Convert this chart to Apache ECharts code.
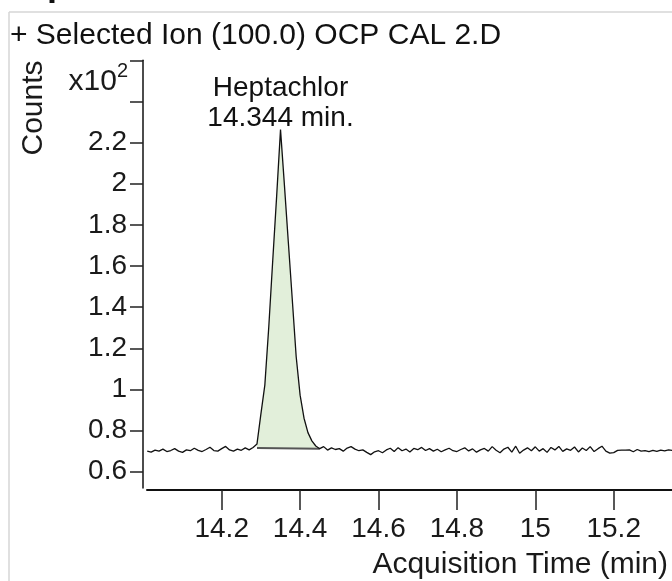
<!DOCTYPE html>
<html>
<head>
<meta charset="utf-8">
<script src="https://cdn.jsdelivr.net/npm/echarts@6/dist/echarts.min.js"></script>
<style>
html,body{margin:0;padding:0;background:#fff;}
#chart{width:672px;height:581px;}
</style>
</head>
<body>
<div id="chart"></div>
<script>
// ---- data ----
const titleText = '+ Selected Ion (100.0) OCP CAL 2.D';
const compoundName = 'Heptachlor';
const retentionLabel = '14.344 min.';
const sampleStart = 14.01;   // min
const sampleStep = 0.01;     // min
const counts = [
  0.700,0.695,0.705,0.700,0.710,0.698,0.703,0.712,0.700,0.694,
  0.706,0.702,0.714,0.704,0.698,0.708,0.719,0.703,0.700,0.712,
  0.723,0.706,0.700,0.710,0.704,0.716,0.706,0.718,0.735,0.881,
  1.021,1.302,1.622,1.935,2.263,1.992,1.714,1.437,1.159,0.972,
  0.860,0.790,0.750,0.725,0.712,0.722,0.705,0.716,0.708,0.712,
  0.700,0.715,0.722,0.710,0.702,0.706,0.694,0.683,0.697,0.702,
  0.692,0.706,0.714,0.698,0.717,0.702,0.710,0.696,0.713,0.707,
  0.718,0.703,0.712,0.700,0.709,0.697,0.706,0.714,0.702,0.698,
  0.708,0.716,0.701,0.711,0.695,0.706,0.713,0.700,0.722,0.704,
  0.692,0.710,0.719,0.695,0.724,0.690,0.705,0.716,0.702,0.721,
  0.700,0.712,0.694,0.718,0.706,0.723,0.699,0.711,0.704,0.720,
  0.696,0.715,0.703,0.722,0.698,0.712,0.724,0.700,0.690,0.693,
  0.704,0.705,0.705,0.706,0.697,0.708,0.700,0.703,0.698,0.704,
  0.699,0.705,0.701,0.706,0.703
];
const peakStartTime = 14.29;
const peakEndTime = 14.45;
const peakBaseStart = 0.715;
const peakBaseEnd = 0.712;
const peakApexTime = 14.35;
const xTicks = [14.2, 14.4, 14.6, 14.8, 15, 15.2];
const yTicks = [0.6, 0.8, 1, 1.2, 1.4, 1.6, 1.8, 2, 2.2, 2.4, 2.6];
const yTickLabels = [0.6, 0.8, 1, 1.2, 1.4, 1.6, 1.8, 2, 2.2];
const xRange = [14.0094, 15.3487];
const yRange = [0.5208, 2.6];

// ---- build ----
const trace = counts.map((v, i) => [+(sampleStart + i * sampleStep).toFixed(4), v]);
const peakData = trace.filter(p => p[0] >= peakStartTime - 1e-6 && p[0] <= peakEndTime + 1e-6);
const apexPoint = trace.find(p => Math.abs(p[0] - peakApexTime) < 1e-6);

const FONT = 'Liberation Sans, Arial, sans-serif';
const chart = echarts.init(document.getElementById('chart'), null, {renderer: 'canvas'});
chart.setOption({
  animation: false,
  backgroundColor: '#ffffff',
  grid: {left: 147, right: 0, top: 60.3, bottom: 93, containLabel: false},
  xAxis: {
    type: 'value',
    min: xRange[0], max: xRange[1],
    offset: 2,
    axisLine: {show: true, onZero: false, lineStyle: {color: '#111', width: 2}},
    axisTick: {show: true, length: 20, customValues: xTicks, lineStyle: {color: '#222', width: 1.5}},
    axisLabel: {show: true, customValues: xTicks, margin: 25, fontFamily: FONT, fontSize: 28, color: '#1a1a1a',
      formatter: v => String(+v.toFixed(2))},
    splitLine: {show: false}
  },
  yAxis: {
    type: 'value',
    min: yRange[0], max: yRange[1],
    offset: 4,
    axisLine: {show: true, onZero: false, lineStyle: {color: '#111', width: 1.5}},
    axisTick: {show: true, length: 13, customValues: yTicks, lineStyle: {color: '#222', width: 1.5}},
    axisLabel: {show: true, customValues: yTickLabels, margin: 16, fontFamily: FONT, fontSize: 28, color: '#1a1a1a',
      padding: [13, 0, 0, 0],
      formatter: v => String(+v.toFixed(2))},
    splitLine: {show: false}
  },
  series: [
    {
      name: 'peakArea',
      type: 'line',
      data: peakData,
      symbol: 'none',
      lineStyle: {width: 0, opacity: 0},
      areaStyle: {color: '#e2efda', opacity: 1, origin: peakBaseStart},
      z: 1,
      silent: true
    },
    {
      name: 'baseline',
      type: 'line',
      data: [[peakStartTime, peakBaseStart], [peakEndTime, peakBaseEnd]],
      symbol: 'none',
      lineStyle: {color: '#555', width: 2},
      z: 2,
      silent: true
    },
    {
      name: 'signal',
      type: 'line',
      data: trace,
      symbol: 'none',
      lineStyle: {color: '#111', width: 1.3},
      z: 3,
      silent: true
    },
    {
      name: 'apexLabel',
      type: 'scatter',
      data: [apexPoint],
      symbolSize: 0,
      itemStyle: {opacity: 1, color: '#111'},
      z: 4,
      silent: true,
      label: {
        show: true,
        position: 'top',
        distance: -4,
        formatter: compoundName + '\n' + retentionLabel,
        fontFamily: FONT,
        fontSize: 28,
        lineHeight: 30,
        color: '#111',
        opacity: 1
      }
    }
  ],
  graphic: [
    {type: 'line', shape: {x1: 9, y1: 12, x2: 672, y2: 12}, style: {stroke: '#d6d6d6', lineWidth: 1.5}},
    {type: 'line', shape: {x1: 9, y1: 12, x2: 9, y2: 581}, style: {stroke: '#d6d6d6', lineWidth: 1.5}},
    {type: 'text', x: 47, y: -15, style: {text: 'p', font: 'bold 36px ' + FONT, fill: '#111', verticalAlign: 'middle'}},
    {type: 'text', left: 10, top: 21, style: {text: titleText, font: '30px ' + FONT, fill: '#111'}},
    {type: 'text', x: 34, y: 108, rotation: Math.PI / 2,
      style: {text: 'Counts', font: '30px ' + FONT, fill: '#1a1a1a', align: 'center', verticalAlign: 'middle'}},
    {type: 'text', x: 128, y: 97,
      style: {text: '{a|x10}{s|2}', align: 'right', verticalAlign: 'bottom', fill: '#1a1a1a',
        rich: {a: {fontFamily: FONT, fontSize: 30, verticalAlign: 'bottom', lineHeight: 36},
               s: {fontFamily: FONT, fontSize: 20, verticalAlign: 'top', lineHeight: 36}}}},
    {type: 'text', right: 4, top: 550, style: {text: 'Acquisition Time (min)', font: '30px ' + FONT, fill: '#1a1a1a'}}
  ]
});
</script>
</body>
</html>
